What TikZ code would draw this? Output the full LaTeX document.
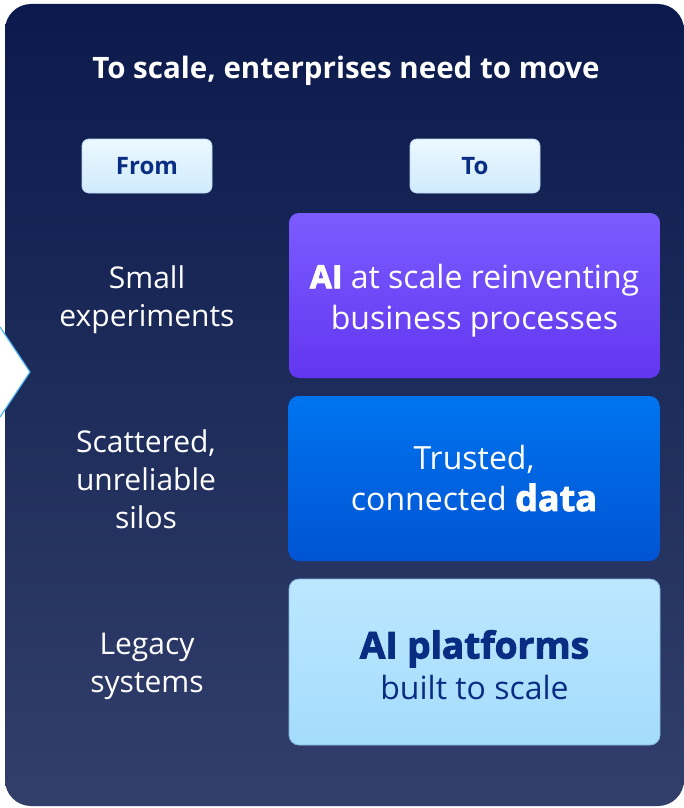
\documentclass[tikz,border=0pt]{standalone}
\usepackage{fontspec}
\setmainfont{Open Sans}
\newfontfamily\heavyfont{Open Sans}[BoldFeatures={FakeBold=2.5}]
\definecolor{paneltop}{HTML}{0B1A4C}
\definecolor{panelbot}{HTML}{323F6B}
\definecolor{hdrtop}{HTML}{ECF8FF}
\definecolor{hdrbot}{HTML}{D0EBFD}
\definecolor{hdrline}{HTML}{B8D8F2}
\definecolor{navytext}{HTML}{0A2D84}
\definecolor{purptop}{HTML}{7B5CFF}
\definecolor{purpbot}{HTML}{6236F0}
\definecolor{bluetop}{HTML}{0074EF}
\definecolor{bluebot}{HTML}{0054D3}
\definecolor{lighttop}{HTML}{BCE7FF}
\definecolor{lightbot}{HTML}{A4DCFC}
\definecolor{lightline}{HTML}{86B6E0}
\definecolor{chevline}{HTML}{4DB2F6}
\begin{document}
\begin{tikzpicture}[x=1pt,y=-1pt,
  hdrbox/.style={draw=hdrline, line width=0.8pt, rounded corners=7pt,
    top color=hdrtop, bottom color=hdrbot, minimum width=130pt, minimum height=54pt,
    inner sep=0pt, outer sep=0pt, text=navytext,
    font=\bfseries\fontsize{24}{28}\selectfont},
  bigbox/.style={rounded corners=10pt, minimum width=371pt, minimum height=165pt,
    inner sep=0pt, outer sep=0pt},
  boxtxt/.style={align=center, inner sep=0pt, font=\fontsize{32}{41}\selectfont},
  fromtxt/.style={text=white, align=center, font=\fontsize{30}{38}\selectfont},
  ]
\useasboundingbox (0,0) rectangle (684,808);
% panel
\shade[top color=paneltop, bottom color=panelbot, rounded corners=26pt]
  (5,4) rectangle (684,806);
% chevron cut
\coordinate (chevtop) at (0,327);
\coordinate (chevtip) at (30,372);
\coordinate (chevbot) at (0,417);
\fill[white] (chevtop) -- (chevtip) -- (chevbot) -- cycle;
\draw[chevline, line width=1.2pt] (chevtop) -- (chevtip) -- (chevbot);
% title
\node[text=white, font=\bfseries\fontsize{29.5}{34}\selectfont] (title) at (346,71)
  {To scale, enterprises need to move};
% headers
\node[hdrbox] (from) at (147,166) {From};
\node[hdrbox] (to) at (475,166) {To};
% right boxes
\node[bigbox, shading angle=155, left color=purptop, right color=purpbot,
  top color=purptop, bottom color=purpbot] (b1) at (474.5,295.5) {};
\node[boxtxt, text=white] (t1) at ([yshift=-5pt]b1.center)
  {{\heavyfont\bfseries AI} at scale reinventing\\business processes};
\node[bigbox, top color=bluetop, bottom color=bluebot] (b2) at (474,478.5) {};
\node[boxtxt, text=white] (t2) at (b2.center)
  {Trusted,\\connected {\heavyfont\bfseries\fontsize{36}{41}\selectfont data}};
\node[bigbox, draw=lightline, line width=0.8pt, top color=lighttop, bottom color=lightbot,
  minimum height=166pt] (b3) at (474.5,662) {};
\node[boxtxt, text=navytext] (t3) at ([yshift=-3pt]b3.center)
  {{\heavyfont\bfseries\fontsize{37}{41}\selectfont AI platforms}\\built to scale};
% left labels
\node[fromtxt] (l1) at (147,300) {Small\\experiments};
\node[fromtxt] (l2) at (146,479) {Scattered,\\unreliable\\silos};
\node[fromtxt] (l3) at (147,666) {Legacy\\systems};
\end{tikzpicture}
\end{document}
